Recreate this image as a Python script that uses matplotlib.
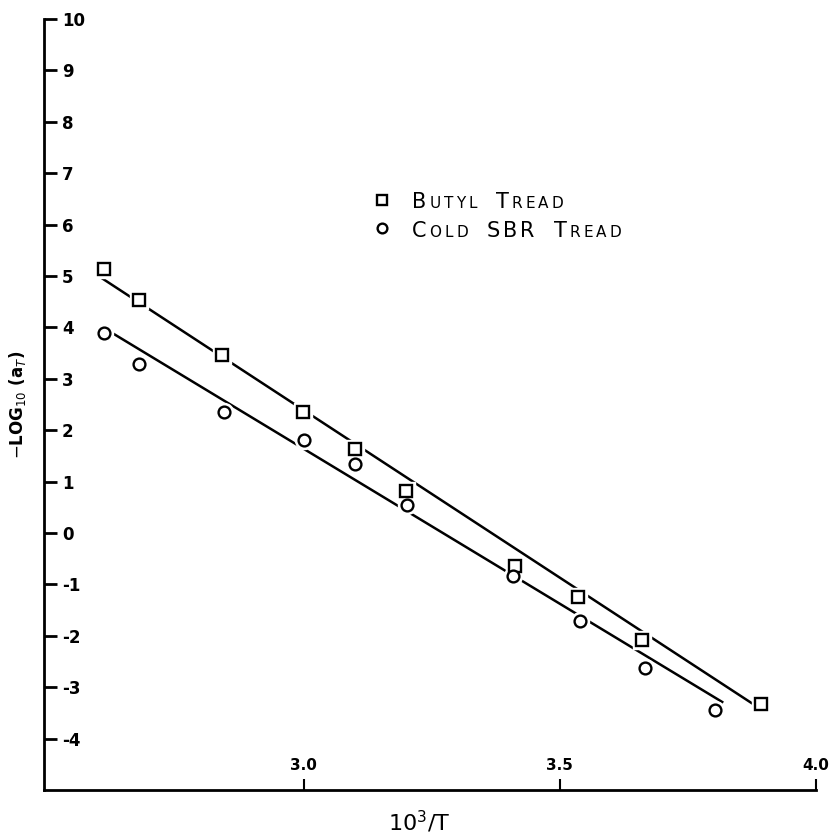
import matplotlib
matplotlib.use("Agg")
import matplotlib.pyplot as plt

# ---- data ----
butyl_x = [2.610, 2.678, 2.840, 2.998, 3.101, 3.199, 3.413, 3.536, 3.661, 3.893]
butyl_y = [5.14, 4.53, 3.46, 2.35, 1.63, 0.82, -0.64, -1.24, -2.08, -3.33]
sbr_x = [2.610, 2.678, 2.844, 3.000, 3.101, 3.201, 3.409, 3.540, 3.667, 3.803]
sbr_y = [3.89, 3.29, 2.35, 1.81, 1.34, 0.54, -0.84, -1.71, -2.63, -3.44]
butyl_fit_x = [2.604, 3.876]
butyl_fit_y = [4.97, -3.32]
sbr_fit_x = [2.628, 3.819]
sbr_fit_y = [3.88, -3.30]
yticks = list(range(-4, 11))
xticks = [3.0, 3.5, 4.0]
xtick_labels = ["3.0", "3.5", "4.0"]
legend_labels = ["Butyl Tread", "Cold SBR Tread"]

W, H = 832, 835
fig = plt.figure(figsize=(W / 100, H / 100), dpi=100)
ax = fig.add_axes([44 / W, 1 - 790 / H, (816 - 44) / W, (790 - 19) / H])
ax.set_xlim(2.493, 4.0)
ax.set_ylim(-5, 10)

for s in ["top", "right"]:
    ax.spines[s].set_visible(False)
for s in ["left", "bottom"]:
    ax.spines[s].set_linewidth(2.0)

ax.set_yticks(yticks)
ax.set_yticklabels([str(v) for v in yticks])
ax.set_xticks(xticks)
ax.set_xticklabels(xtick_labels)
ax.tick_params(axis="y", direction="in", length=9, width=2, pad=-13,
               labelsize=12)
ax.tick_params(axis="x", direction="in", length=8, width=1.5, pad=-12,
               labelsize=11)
for lab in ax.get_yticklabels():
    lab.set_horizontalalignment("left")
    lab.set_fontweight("bold")
for lab in ax.get_xticklabels():
    lab.set_verticalalignment("bottom")
    lab.set_fontweight("bold")

# fit lines
ax.plot(butyl_fit_x, butyl_fit_y, color="black", lw=1.8, zorder=1,
        solid_capstyle="butt")
ax.plot(sbr_fit_x, sbr_fit_y, color="black", lw=1.8, zorder=1,
        solid_capstyle="butt")

# white halos to break the lines around the markers
ax.plot(butyl_x, butyl_y, ls="none", marker="s", ms=13, mfc="white",
        mec="white", zorder=2)
ax.plot(sbr_x, sbr_y, ls="none", marker="o", ms=13, mfc="white",
        mec="white", zorder=2)
# markers
ax.plot(butyl_x, butyl_y, ls="none", marker="s", ms=8, mfc="white",
        mec="black", mew=1.7, zorder=3)
ax.plot(sbr_x, sbr_y, ls="none", marker="o", ms=8.5, mfc="white",
        mec="black", mew=1.7, zorder=3)

# axis labels
fig.text(419 / W, 1 - 822 / H, r"$\mathregular{10^3/T}$", ha="center",
         va="center", fontsize=16)
fig.text(18 / W, 1 - 405 / H, r"$-$LOG$_{10}$ (a$_T$)", rotation=90,
         ha="center", va="center", fontsize=12, fontweight="bold")

# legend (small caps style, letter-spaced)
fig.canvas.draw()
renderer = fig.canvas.get_renderer()


def small_caps(x_px, y_px, text, big=15, small=11, track=3, gap=16):
    x = x_px
    for word_i, word in enumerate(text.split(" ")):
        if word_i > 0:
            x += gap
        for ch in word:
            is_big = ch.isupper()
            t = fig.text(x / W, 1 - y_px / H, ch.upper(), ha="left",
                         va="baseline", fontsize=big if is_big else small)
            bb = t.get_window_extent(renderer=renderer)
            x += bb.width + track


leg_marker_x = 382
leg_rows = [208, 237]
fig.lines.append(plt.Line2D([leg_marker_x / W], [1 - 200 / H], ls="none",
                            marker="s", ms=7, mfc="white", mec="black",
                            mew=1.7, transform=fig.transFigure))
fig.lines.append(plt.Line2D([leg_marker_x / W], [1 - 228 / H], ls="none",
                            marker="o", ms=7, mfc="white", mec="black",
                            mew=1.7, transform=fig.transFigure))
small_caps(412, leg_rows[0], legend_labels[0])
small_caps(412, leg_rows[1], legend_labels[1])

fig.savefig("out.png", dpi=100)
